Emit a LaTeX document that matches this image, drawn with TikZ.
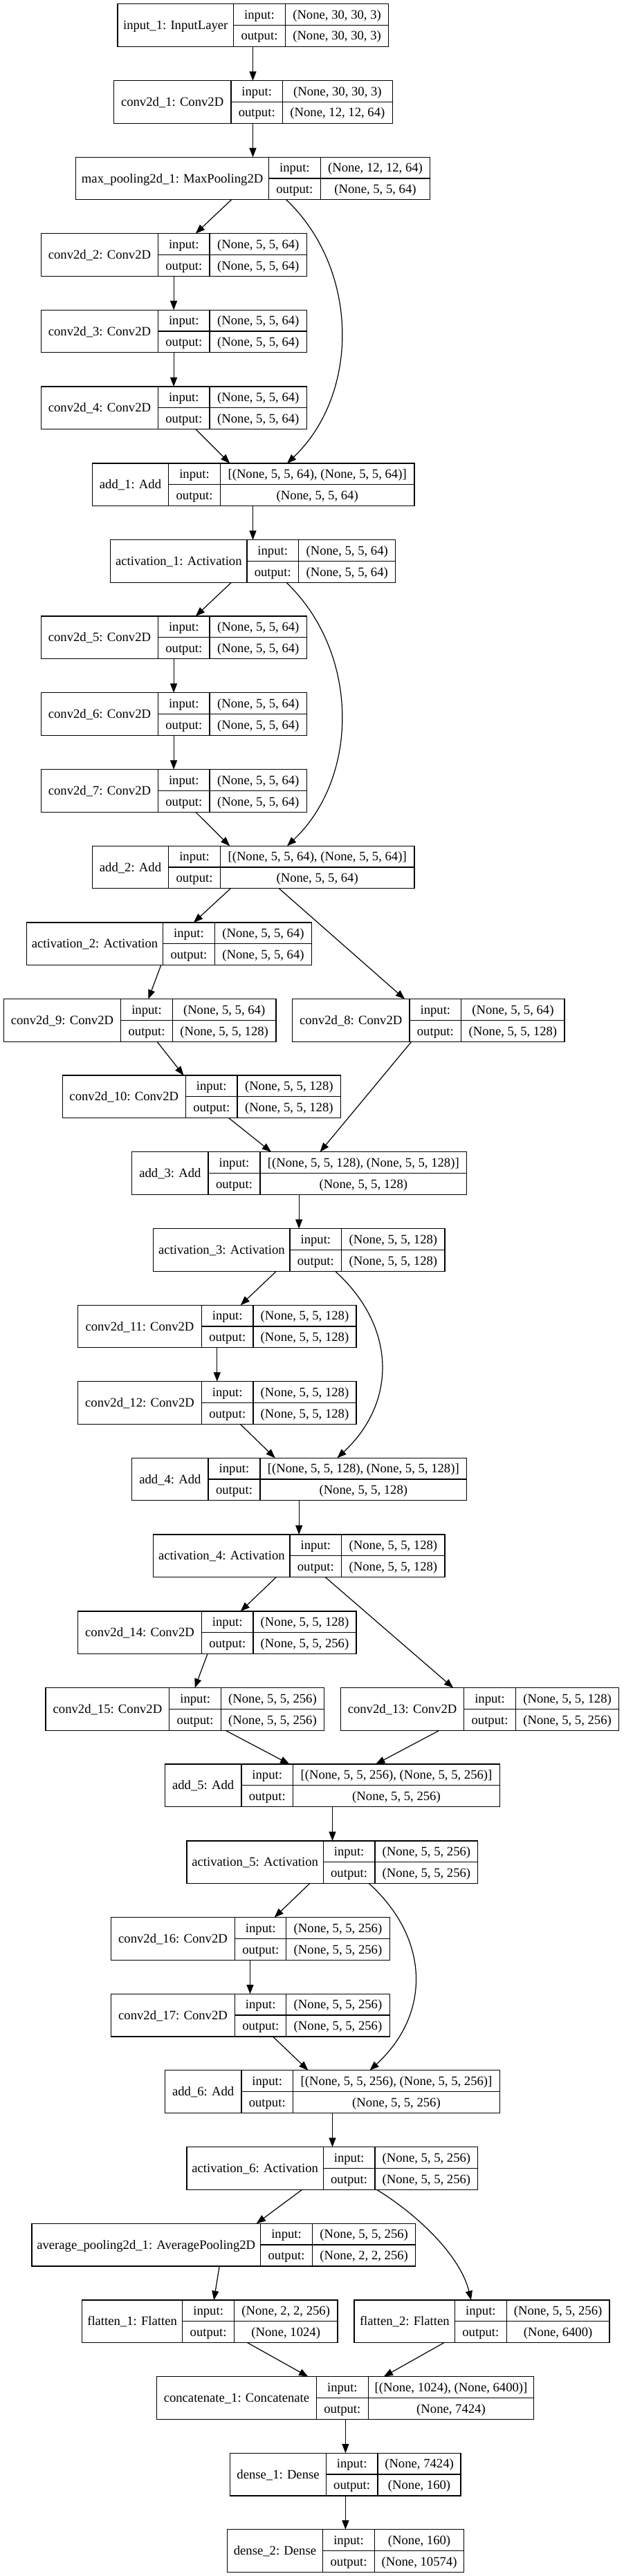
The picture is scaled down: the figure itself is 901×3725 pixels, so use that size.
\documentclass[tikz,border=0pt]{standalone}
\usepackage{fontspec}
\setmainfont{Liberation Serif}
\usetikzlibrary{arrows.meta}
\tikzset{
  boxst/.style={draw=black, line width=1pt, rectangle, inner sep=0pt, outer sep=0pt},
  boxln/.style={draw=black, line width=1pt},
  txt/.style={inner sep=0pt, anchor=base, font=\fontsize{14pt}{16pt}\selectfont},
  arr/.style={draw=black, line width=0.9pt, -{Triangle[length=10pt,width=7.5pt]}}
}
% #1 name, #2 label, #3 x0, #4 div1, #5 div2, #6 x1, #7 y0, #8 input shape, #9 output shape
\newcommand\lyr[9]{%
  \node[boxst, minimum width={(#6-#3)*0.75pt}, minimum height=46.125pt, anchor=north west] (#1) at (#3,#7) {};
  \draw[boxln] (#4,#7) -- (#4,#7+61.5);
  \draw[boxln] (#5,#7) -- (#5,#7+61.5);
  \draw[boxln] (#4,#7+30.75) -- (#6,#7+30.75);
  \node[txt] (#1-n) at ({(#3+#4)/2},#7+36.9) {#2};
  \node[txt] (#1-ik) at ({(#4+#5)/2},#7+21.6) {input:};
  \node[txt] (#1-ok) at ({(#4+#5)/2},#7+52.3) {output:};
  \node[txt] (#1-iv) at ({(#5+#6)/2},#7+21.6) {#8};
  \node[txt] (#1-ov) at ({(#5+#6)/2},#7+52.3) {#9};
}
\newcommand\edg[4]{\draw[arr] (#2,0 |- #1.south) -- (#4,0 |- #3.north);}
\begin{document}
\begin{tikzpicture}[x=0.75pt, y=-0.75pt]
\fill[white] (0,0) rectangle (901,3725);
\useasboundingbox (0,0) rectangle (901,3725);

\lyr{in1}{input\_1: InputLayer}{170.1}{337.4}{412.6}{561.5}{5.7}{(None, 30, 30, 3)}{(None, 30, 30, 3)}
\lyr{c1}{conv2d\_1: Conv2D}{164.4}{333.9}{408.6}{567.2}{116.7}{(None, 30, 30, 3)}{(None, 12, 12, 64)}
\lyr{mp}{max\_pooling2d\_1: MaxPooling2D}{109.8}{388.5}{463.2}{621.8}{227.3}{(None, 12, 12, 64)}{(None, 5, 5, 64)}
\lyr{c2}{conv2d\_2: Conv2D}{59.2}{228.7}{302.9}{443.7}{337.7}{(None, 5, 5, 64)}{(None, 5, 5, 64)}
\lyr{c3}{conv2d\_3: Conv2D}{59.2}{228.7}{302.9}{443.7}{448.3}{(None, 5, 5, 64)}{(None, 5, 5, 64)}
\lyr{c4}{conv2d\_4: Conv2D}{59.2}{228.7}{302.9}{443.7}{559.0}{(None, 5, 5, 64)}{(None, 5, 5, 64)}
\lyr{a1}{add\_1: Add}{133.3}{243.7}{318.4}{598.9}{670.0}{[(None, 5, 5, 64), (None, 5, 5, 64)]}{(None, 5, 5, 64)}
\lyr{ac1}{activation\_1: Activation}{159.8}{356.9}{431.6}{571.8}{780.7}{(None, 5, 5, 64)}{(None, 5, 5, 64)}
\lyr{c5}{conv2d\_5: Conv2D}{59.2}{228.7}{302.9}{443.7}{891.0}{(None, 5, 5, 64)}{(None, 5, 5, 64)}
\lyr{c6}{conv2d\_6: Conv2D}{59.2}{228.7}{302.9}{443.7}{1001.7}{(None, 5, 5, 64)}{(None, 5, 5, 64)}
\lyr{c7}{conv2d\_7: Conv2D}{59.2}{228.7}{302.9}{443.7}{1112.7}{(None, 5, 5, 64)}{(None, 5, 5, 64)}
\lyr{a2}{add\_2: Add}{133.3}{243.7}{318.4}{598.9}{1223.3}{[(None, 5, 5, 64), (None, 5, 5, 64)]}{(None, 5, 5, 64)}
\lyr{ac2}{activation\_2: Activation}{38.5}{235.6}{310.3}{450.6}{1334.0}{(None, 5, 5, 64)}{(None, 5, 5, 64)}
\lyr{c9}{conv2d\_9: Conv2D}{5.2}{174.7}{249.4}{398.9}{1444.7}{(None, 5, 5, 64)}{(None, 5, 5, 128)}
\lyr{c8}{conv2d\_8: Conv2D}{422.4}{592.0}{666.7}{816.1}{1444.7}{(None, 5, 5, 64)}{(None, 5, 5, 128)}
\lyr{c10}{conv2d\_10: Conv2D}{90.2}{268.4}{343.1}{492.5}{1555.0}{(None, 5, 5, 128)}{(None, 5, 5, 128)}
\lyr{a3}{add\_3: Add}{190.8}{301.1}{375.9}{674.7}{1665.7}{[(None, 5, 5, 128), (None, 5, 5, 128)]}{(None, 5, 5, 128)}
\lyr{ac3}{activation\_3: Activation}{221.8}{419.0}{493.7}{643.1}{1776.7}{(None, 5, 5, 128)}{(None, 5, 5, 128)}
\lyr{c11}{conv2d\_11: Conv2D}{112.6}{291.4}{366.1}{514.9}{1887.3}{(None, 5, 5, 128)}{(None, 5, 5, 128)}
\lyr{c12}{conv2d\_12: Conv2D}{112.6}{291.4}{366.1}{514.9}{1997.7}{(None, 5, 5, 128)}{(None, 5, 5, 128)}
\lyr{a4}{add\_4: Add}{190.8}{301.1}{375.9}{674.7}{2108.3}{[(None, 5, 5, 128), (None, 5, 5, 128)]}{(None, 5, 5, 128)}
\lyr{ac4}{activation\_4: Activation}{221.8}{419.0}{493.7}{643.1}{2219.0}{(None, 5, 5, 128)}{(None, 5, 5, 128)}
\lyr{c14}{conv2d\_14: Conv2D}{112.6}{291.4}{366.1}{514.9}{2330.0}{(None, 5, 5, 128)}{(None, 5, 5, 256)}
\lyr{c15}{conv2d\_15: Conv2D}{66.1}{244.8}{319.5}{468.4}{2440.7}{(None, 5, 5, 256)}{(None, 5, 5, 256)}
\lyr{c13}{conv2d\_13: Conv2D}{492.5}{670.7}{745.4}{894.8}{2440.7}{(None, 5, 5, 128)}{(None, 5, 5, 256)}
\lyr{a5}{add\_5: Add}{238.5}{348.9}{423.6}{722.4}{2551.0}{[(None, 5, 5, 256), (None, 5, 5, 256)]}{(None, 5, 5, 256)}
\lyr{ac5}{activation\_5: Activation}{270.1}{467.2}{542.0}{690.8}{2662.0}{(None, 5, 5, 256)}{(None, 5, 5, 256)}
\lyr{c16}{conv2d\_16: Conv2D}{160.3}{339.7}{413.8}{563.2}{2772.7}{(None, 5, 5, 256)}{(None, 5, 5, 256)}
\lyr{c17}{conv2d\_17: Conv2D}{160.3}{339.7}{413.8}{563.2}{2883.3}{(None, 5, 5, 256)}{(None, 5, 5, 256)}
\lyr{a6}{add\_6: Add}{238.5}{348.9}{423.6}{722.4}{2993.7}{[(None, 5, 5, 256), (None, 5, 5, 256)]}{(None, 5, 5, 256)}
\lyr{ac6}{activation\_6: Activation}{270.1}{467.2}{542.0}{690.8}{3104.7}{(None, 5, 5, 256)}{(None, 5, 5, 256)}
\lyr{ap}{average\_pooling2d\_1: AveragePooling2D}{46.0}{376.4}{451.7}{600.6}{3215.3}{(None, 5, 5, 256)}{(None, 2, 2, 256)}
\lyr{f1}{flatten\_1: Flatten}{118.4}{263.8}{338.5}{487.9}{3326.0}{(None, 2, 2, 256)}{(None, 1024)}
\lyr{f2}{flatten\_2: Flatten}{512.1}{657.5}{732.2}{881.0}{3326.0}{(None, 5, 5, 256)}{(None, 6400)}
\lyr{cc}{concatenate\_1: Concatenate}{226.4}{457.5}{532.2}{771.8}{3436.7}{[(None, 1024), (None, 6400)]}{(None, 7424)}
\lyr{d1}{dense\_1: Dense}{332.8}{471.3}{546.0}{666.1}{3547.3}{(None, 7424)}{(None, 160)}
\lyr{d2}{dense\_2: Dense}{328.2}{466.7}{541.4}{670.7}{3657.7}{(None, 160)}{(None, 10574)}

% connectors
\edg{in1}{365.5}{c1}{365.5}
\edg{c1}{365.5}{mp}{365.5}
\edg{mp}{334.5}{c2}{282.8}
\draw[arr] (413.8,0 |- mp.south) .. controls (520,390) and (520,570) .. (415,0 |- a1.north);
\edg{c2}{251.1}{c3}{251.1}
\edg{c3}{251.1}{c4}{251.1}
\edg{c4}{282.8}{a1}{332.2}
\edg{a1}{365.5}{ac1}{365.5}
\edg{ac1}{334.5}{c5}{282.8}
\draw[arr] (413.8,0 |- ac1.south) .. controls (520,943.7) and (520,1123.7) .. (415,0 |- a2.north);
\edg{c5}{251.1}{c6}{251.1}
\edg{c6}{251.1}{c7}{251.1}
\edg{c7}{282.8}{a2}{332.2}
\edg{a2}{333.3}{ac2}{279.9}
\edg{a2}{403.4}{c8}{585.1}
\edg{ac2}{232.8}{c9}{214.4}
\edg{c9}{227.0}{c10}{265.5}
\edg{c8}{594.8}{a3}{462.6}
\edg{c10}{330.5}{a3}{392.0}
\edg{a3}{432.2}{ac3}{432.2}
\edg{ac3}{399.4}{c11}{347.7}
\draw[arr] (484.5,0 |- ac3.south) .. controls (573.6,1919) and (573.6,2028) .. (487.4,0 |- a4.north);
\edg{c11}{313.8}{c12}{313.8}
\edg{c12}{347.1}{a4}{397.7}
\edg{a4}{432.2}{ac4}{432.2}
\edg{ac4}{399.4}{c14}{347.7}
\edg{ac4}{470.1}{c13}{655.2}
\edg{c14}{300.0}{c15}{281.6}
\edg{c15}{325.9}{a5}{418.4}
\edg{c13}{635.1}{a5}{543.1}
\edg{a5}{480.5}{ac5}{480.5}
\edg{ac5}{447.7}{c16}{396.6}
\draw[arr] (533.3,0 |- ac5.south) .. controls (622.4,2804.3) and (622.4,2913.3) .. (534.5,0 |- a6.north);
\edg{c16}{361.5}{c17}{361.5}
\edg{c17}{394.3}{a6}{445.4}
\edg{a6}{480.5}{ac6}{480.5}
\edg{ac6}{436.8}{ap}{370.7}
\draw[arr] (544.3,0 |- ac6.south) .. controls (600,3200) and (665,3260) .. (681,0 |- f2.north);
\edg{ap}{317.2}{f1}{309.2}
\edg{f1}{357.5}{cc}{445.4}
\edg{f2}{642.0}{cc}{554.6}
\edg{cc}{499.4}{d1}{499.4}
\edg{d1}{499.4}{d2}{499.4}
\end{tikzpicture}
\end{document}
